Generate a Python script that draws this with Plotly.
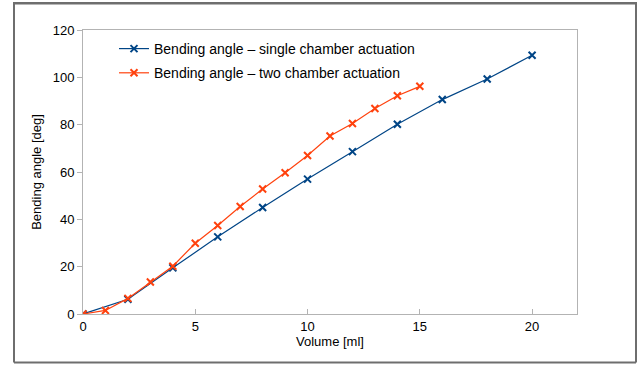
import plotly.graph_objects as go

# Data
vol_single = [0, 2, 4, 6, 8, 10, 12, 14, 16, 18, 20]
angle_single = [0, 6.2, 19.5, 32.6, 45.0, 57.0, 68.6, 80.2, 90.6, 99.3, 109.3]

vol_two = [0, 1, 2, 3, 4, 5, 6, 7, 8, 9, 10, 11, 12, 13, 14, 15]
angle_two = [0, 1.5, 6.6, 13.5, 20.2, 29.9, 37.4, 45.4, 52.8, 59.7, 67.0, 75.2, 80.5, 86.8, 92.2, 96.2]

x_ticks = [0, 5, 10, 15, 20]
y_ticks = [0, 20, 40, 60, 80, 100, 120]

BLUE = "#004586"
ORANGE = "#ff420e"
FONT = "Liberation Sans"

W, H = 643, 365
L, R, T, B = 83, 577, 30, 314

fig = go.Figure()
fig.add_trace(go.Scatter(
    x=vol_single, y=angle_single, mode="lines+markers",
    name="Bending angle \u2013 single chamber actuation", legendgroup="a",
    line=dict(color=BLUE, width=1.2),
    marker=dict(symbol="x-thin", size=7, line=dict(color=BLUE, width=2), color=BLUE),
))
fig.add_trace(go.Scatter(
    x=vol_two, y=angle_two, mode="lines+markers",
    name="Bending angle \u2013 two chamber actuation", legendgroup="b",
    line=dict(color=ORANGE, width=1.2),
    marker=dict(symbol="x-thin", size=7, line=dict(color=ORANGE, width=2), color=ORANGE),
))

pw = R - L
ph = B - T
def px_x(p):
    return (p - L) / pw
def px_y(p):
    return (B - p) / ph

bx0, bx1, by0, by1 = px_x(14), px_x(636), px_y(362.5), px_y(3.5)
border = dict(color="#6e6e6e", width=2)
for (a, b, c, d) in [(bx0, by1, bx1, by1), (bx0, by0, bx1, by0),
                     (bx0, by0, bx0, by1), (bx1, by0, bx1, by1)]:
    fig.add_shape(type="line", xref="paper", yref="paper",
                  x0=a, y0=b, x1=c, y1=d, line=border, layer="above")

axis_common = dict(
    showgrid=False, zeroline=False, showline=True, linecolor="#b3b3b3", linewidth=1,
    mirror=True, ticklen=5, tickcolor="#b3b3b3", automargin=False,
    tickfont=dict(family=FONT, size=13, color="#000"),
)
fig.update_xaxes(range=[0, 22], tickvals=x_ticks, ticks="inside",
                 title=dict(text="Volume [ml]", font=dict(family=FONT, size=13, color="#000"), standoff=2),
                 **axis_common)
fig.update_yaxes(range=[0, 120], tickvals=y_ticks, ticks="outside",
                 title=dict(text="Bending angle [deg]", font=dict(family=FONT, size=13, color="#000"), standoff=8),
                 **axis_common)

fig.update_layout(
    width=W, height=H,
    margin=dict(l=L, r=W - R, t=T, b=H - B, pad=0),
    paper_bgcolor="white", plot_bgcolor="white",
    font=dict(family=FONT, size=14, color="#000"),
    showlegend=True,
    legend=dict(x=px_x(114), y=px_y(33), xanchor="left", yanchor="top",
                bgcolor="rgba(0,0,0,0)", font=dict(family=FONT, size=14, color="#000"),
                tracegroupgap=3, itemwidth=30),
)

post = (
    "document.body.style.margin='0';"
    "var d=document.createElement('div');"
    "d.style.cssText='position:absolute;left:13px;top:2px;width:624px;height:2px;"
    "background:#6e6e6e;pointer-events:none;';"
    "document.body.appendChild(d);"
)
fig.write_html("out.html", config={"displayModeBar": False}, post_script=post)
